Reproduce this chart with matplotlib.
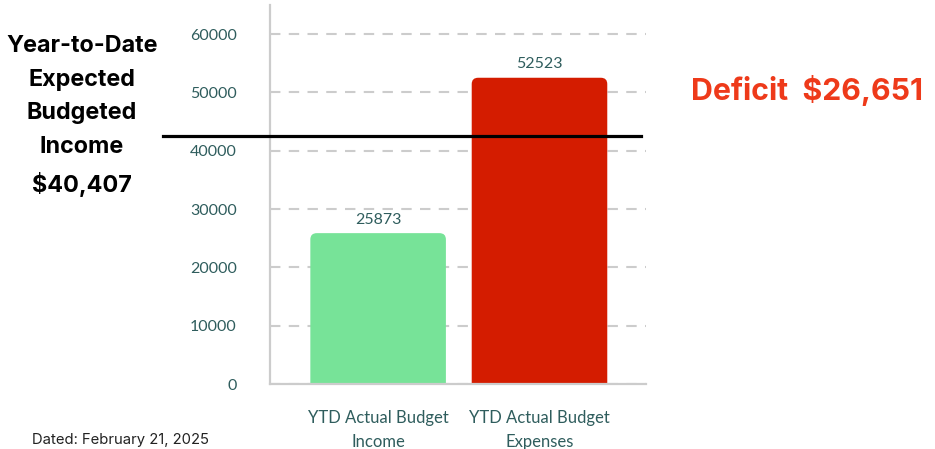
import matplotlib.pyplot as plt
from matplotlib.patches import FancyBboxPatch

# Data
categories = ["YTD Actual Budget\nIncome", "YTD Actual Budget\nExpenses"]
values = [25873, 52523]
bar_colors = ["#77E398", "#D41C00"]
y_ticks = [0, 10000, 20000, 30000, 40000, 50000, 60000]
expected_line = 42600  # where the black reference line sits on the axis
left_label = "Year-to-Date\nExpected\nBudgeted\nIncome\n$40,407"
deficit_label = "Deficit  $26,651"
dated_label = "Dated: February 21, 2025"

TEAL = "#2F5D5D"
GRID = "#CCCCCC"
ANNOT_FONT = ["Inter", "DejaVu Sans"]

plt.rcParams["font.family"] = ["Lato", "DejaVu Sans"]

fig = plt.figure(figsize=(9.35, 4.49), dpi=100)
ax = fig.add_axes([270 / 935, 65 / 449, 376 / 935, 379 / 449])

x = list(range(len(categories)))
bars = ax.bar(x, values, width=0.84, color=bar_colors, zorder=2)

# swap plain bars for ones with rounded top corners
for b, c in zip(bars, bar_colors):
    b.set_visible(False)
    x0, w, h = b.get_x(), b.get_width(), b.get_height()
    patch = FancyBboxPatch((x0, -3000), w, h + 3000,
                           boxstyle="round,pad=0,rounding_size=0.04",
                           mutation_aspect=27000, facecolor=c,
                           edgecolor="none", zorder=2, clip_on=True)
    ax.add_patch(patch)

for xi, v in zip(x, values):
    ax.text(xi, v + 1100, str(v), ha="center", va="bottom",
            fontsize=11.5, color=TEAL)

ax.set_xlim(-0.67, 1.66)
ax.set_ylim(0, 65000)
ax.set_yticks(y_ticks)
ax.set_yticklabels([str(t) for t in y_ticks])
ax.set_xticks(x)
ax.set_xticklabels(categories, fontsize=12, color=TEAL, linespacing=1.55)
ax.tick_params(axis="y", length=0, pad=24, labelsize=11.5, labelcolor=TEAL)
ax.tick_params(axis="x", length=0, pad=19)

ax.yaxis.grid(True, color=GRID, linestyle=(0, (5, 4)), linewidth=1.5, zorder=1)
ax.set_axisbelow(True)
for s in ["top", "right"]:
    ax.spines[s].set_visible(False)
for s in ["left", "bottom"]:
    ax.spines[s].set_color(GRID)
    ax.spines[s].set_linewidth(1.6)

# black expected-income line, running left past the axis
ax.axhline(expected_line, xmin=-0.285, xmax=0.987, color="black",
           linewidth=2.3, clip_on=False, zorder=4)

fig.text(82 / 935, 1 - 116 / 449, left_label, ha="center", va="center",
         fontsize=16.8, fontweight="bold", color="black", linespacing=1.68,
         family=ANNOT_FONT)
fig.text(807 / 935, 1 - 90 / 449, deficit_label, ha="center", va="center",
         fontsize=21.8, fontweight="bold", color="#EE3A1A", family=ANNOT_FONT)
fig.text(32 / 935, 1 - 440 / 449, dated_label, ha="left", va="center",
         fontsize=10.7, color="#222222", family=ANNOT_FONT)

fig.savefig("out.png", dpi=100)
